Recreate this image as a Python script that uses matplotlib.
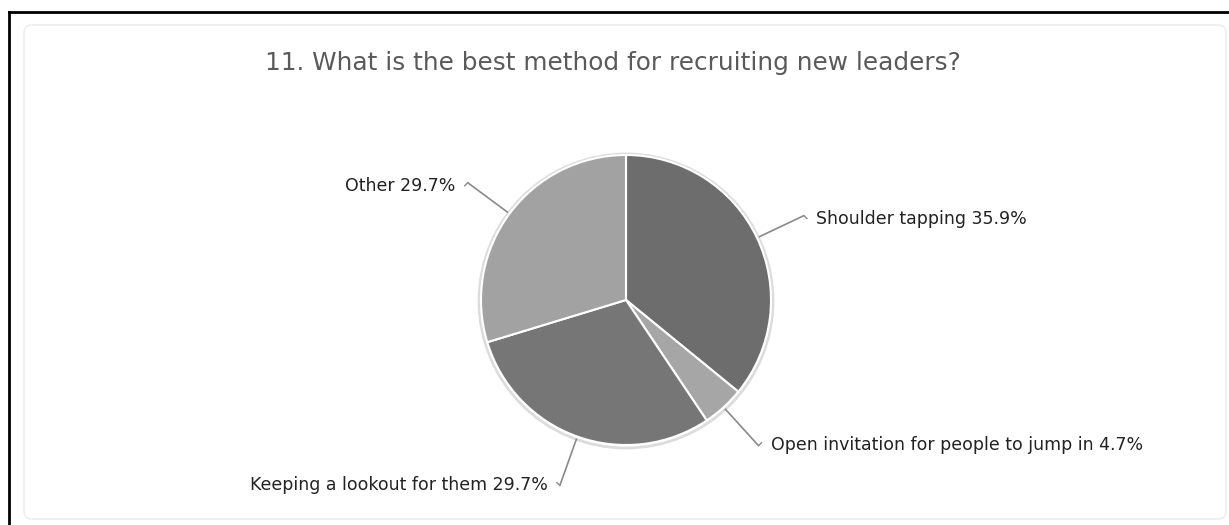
import numpy as np
import matplotlib
matplotlib.use("Agg")
import matplotlib.pyplot as plt
from matplotlib.patches import FancyBboxPatch, Circle
from matplotlib.lines import Line2D

# Données du graphique
categories = ["Shoulder tapping", "Open invitation for people to jump in",
              "Keeping a lookout for them", "Other"]
pourcentages = [35.9, 4.7, 29.7, 29.7]
couleurs = ["#6d6d6d", "#a6a6a6", "#767676", "#a2a2a2"]
titre = "11. What is the best method for recruiting new leaders?"

W, H = 1229, 525
fig = plt.figure(figsize=(W / 100, H / 100), dpi=100)
ax = fig.add_axes([0, 0, 1, 1])

# Centre et rayon du camembert (en pixels, y vers le haut)
cx, cy, r = 626, 225, 145

# Ombre légère autour du camembert
ax.add_patch(Circle((cx, cy - 1), r + 2, facecolor="none", edgecolor="#dcdcdc", lw=2, zorder=0))

wedges, _ = ax.pie(pourcentages, colors=couleurs, startangle=90, counterclock=False,
                   center=(cx, cy), radius=r,
                   wedgeprops=dict(edgecolor="white", linewidth=1.5))

# Étiquettes avec traits de rappel
for w, cat, p in zip(wedges, categories, pourcentages):
    ang = np.deg2rad((w.theta1 + w.theta2) / 2)
    dx, dy = np.cos(ang), np.sin(ang)
    x0, y0 = cx + (r + 2) * dx, cy + (r + 2) * dy
    x1, y1 = cx + (r + 52) * dx, cy + (r + 52) * dy
    side = 1 if dx > 0 else -1
    ax.plot([x0, x1], [y0, y1], color="#8a8a8a", lw=1.2, solid_capstyle="butt")
    # petit crochet au bout
    ax.plot([x1, x1 + side * 3], [y1, y1 + 3 * (-1 if dy > 0 else 1)],
            color="#8a8a8a", lw=1)
    ax.text(x1 + side * 12, y1 - (3 if dy > 0 else -1), f"{cat} {p}%",
            ha="left" if side > 0 else "right", va="center",
            fontsize=12.5, color="#222222")

ax.text(613, H - 63, titre, ha="center", va="center", fontsize=17.8, color="#5a5a5a")

# Cadre arrondi discret
ax.add_patch(FancyBboxPatch((24, 6), 1202, 494, boxstyle="round,pad=0,rounding_size=8",
                            facecolor="none", edgecolor="#eeeeee", lw=1.2))

ax.set_xlim(0, W)
ax.set_ylim(0, H)
ax.axis("off")

# Bordure noire gauche et haut
fig.add_artist(Line2D([8.5 / W, 8.5 / W], [0, 1 - 12 / H], color="black", lw=2))
fig.add_artist(Line2D([8.5 / W, 1], [1 - 12 / H, 1 - 12 / H], color="black", lw=2))

fig.savefig("out.png", dpi=100)
